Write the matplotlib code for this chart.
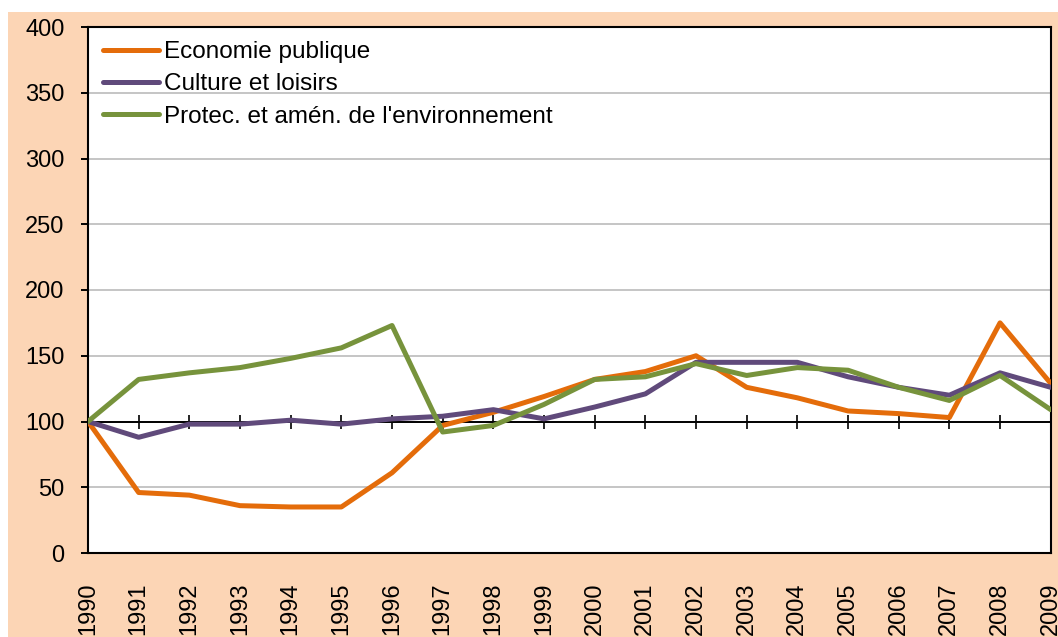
import matplotlib.pyplot as plt
from matplotlib.patches import Rectangle

years = list(range(1990, 2010))
eco_pub = [100, 46, 44, 36, 35, 35, 61, 97, 107, 119, 132, 138, 150, 126, 118, 108, 106, 103, 175, 129]
culture = [100, 88, 98, 98, 101, 98, 102, 104, 109, 102, 111, 121, 145, 145, 145, 134, 126, 120, 137, 126]
environ = [100, 132, 137, 141, 148, 156, 173, 92, 97, 113, 132, 134, 144, 135, 141, 139, 126, 116, 135, 109]
labels = ["Economie publique", "Culture et loisirs", "Protec. et amén. de l'environnement"]
colors = ["#E46C0A", "#604A7B", "#77933C"]
yticks = list(range(0, 401, 50))

plt.rcParams['font.family'] = ['Liberation Sans', 'DejaVu Sans']

fig = plt.figure(figsize=(10.58, 6.37), dpi=100)
fig.patches.append(Rectangle((8 / 1058, 0), 1, (637 - 12) / 637,
                             transform=fig.transFigure, facecolor="#FCD5B5",
                             edgecolor="none", zorder=-10))
ax = fig.add_axes([88 / 1058, 84 / 637, 962.7 / 1058, 526 / 637])
ax.set_facecolor("white")

for vals, lab, col in zip([eco_pub, culture, environ], labels, colors):
    ax.plot(years, vals, color=col, lw=3.6, label=lab, zorder=3,
            solid_joinstyle='round', solid_capstyle='round')

ax.set_xlim(years[0], years[-1])
ax.set_ylim(0, 400)
ax.set_yticks(yticks)
ax.grid(axis='y', color="#C0C0C0", lw=1.3)
ax.set_axisbelow(True)
ax.axhline(100, color="black", lw=1.4, zorder=2)

ax.set_xticks(years)
ax.set_xticklabels([str(y) for y in years], rotation=90)
ax.tick_params(axis='x', length=0, pad=21, labelsize=17)
ax.tick_params(axis='y', direction='out', length=5, width=1.4, pad=12, labelsize=17)
for s in ax.spines.values():
    s.set_linewidth(1.5)
    s.set_color("black")

secax = ax.secondary_xaxis(0.25)
secax.set_xticks(years)
secax.tick_params(axis='x', direction='inout', length=10, width=1.2,
                  labelbottom=False, labeltop=False)
for s in secax.spines.values():
    s.set_visible(False)

ax.legend(loc='upper left', bbox_to_anchor=(0.0156, 0.973), frameon=False,
          fontsize=17.5, handlelength=2.3, handletextpad=0.2, labelspacing=0.42,
          borderpad=0, borderaxespad=0)

fig.savefig("out.png", dpi=100)
